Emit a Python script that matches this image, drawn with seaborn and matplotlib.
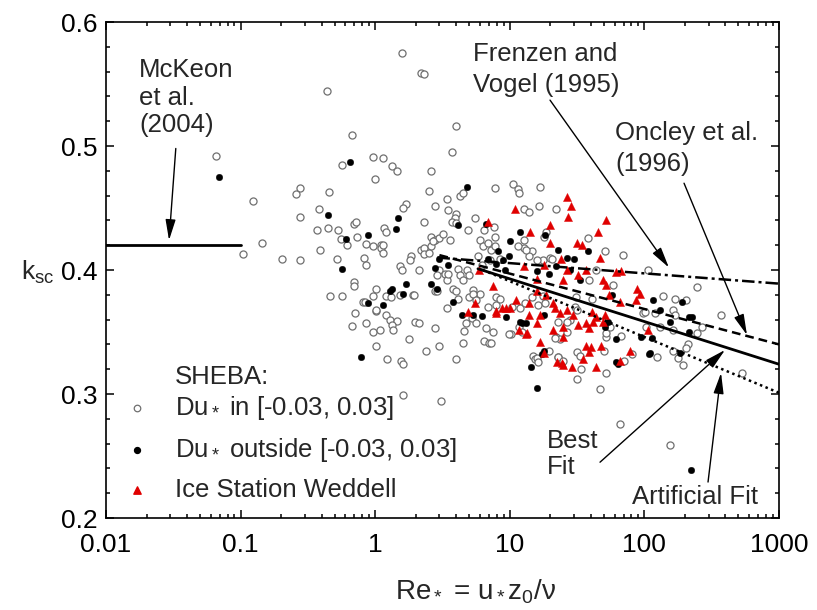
import matplotlib
matplotlib.use("Agg")
import matplotlib.pyplot as plt
import seaborn as sns
import numpy as np
from matplotlib.ticker import LogLocator, NullFormatter, MultipleLocator

# ---------------- data ----------------
open_re = [0.44, 0.066, 0.67, 0.97, 0.57, 1.0, 0.124, 0.276, 0.26, 0.45, 0.38, 0.276, 0.69, 0.72, 0.37,
           0.445, 0.53, 0.56, 0.62, 0.73, 0.86, 0.97, 0.143, 0.105, 0.203, 0.276, 0.39, 0.52, 0.83, 0.85,
           0.69, 0.70, 0.46, 0.57, 0.81, 0.97, 1.02, 0.71, 1.01, 0.67, 0.85, 0.97, 1.02, 1.59, 2.2,
           2.3, 4.0, 3.7, 1.14, 1.34, 1.44, 2.6, 7.7, 10.6, 11.6, 11.7, 16.7, 2.5, 4.3, 4.5,
           3.4, 1.7, 1.6, 2.8, 3.5, 4.0, 3.9, 2.3, 5.5, 12.7, 13.9, 22, 16.5, 1.16, 1.21,
           3.7, 4.0, 4.9, 6.4, 7.6, 18.5, 18, 12.7, 2.6, 2.8, 3.0, 3.6, 1.1, 1.1, 1.86,
           2.2, 2.3, 6.0, 6.3, 6.9, 7.3, 7.8, 1.14, 1.14, 1.8, 2.3, 1.53, 1.57, 2.1, 2.6,
           2.7, 3.2, 2.5, 3.0, 3.3, 3.4, 4.1, 4.8, 4.3, 4.5, 5.0, 1.9, 1.53, 3.8, 4.0,
           5.3, 6.0, 0.84, 1.02, 1.2, 1.3, 1.94, 1.09, 1.2, 1.28, 1.44, 1.33, 1.36, 1.79, 1.97,
           2.1, 2.8, 2.4, 3.0, 1.23, 1.55, 1.6, 4.0, 1.6, 3.1, 2.8, 3.4, 4.1, 5.0, 5.3,
           5.6, 4.7, 5.2, 5.6, 4.6, 6.7, 7.5, 6.4, 7.0, 4.5, 6.9, 7.9, 14.9, 15.4, 31.6,
           46.5, 51.7, 66, 34, 31.6, 33, 23, 24, 15.8, 16.2, 19.7, 26.8, 49.7, 52, 67,
           81, 71, 22, 23.5, 11.7, 12.3, 10.2, 9.9, 7.2, 7.9, 8.5, 10.3, 12, 13.0, 14.7,
           17.7, 16.2, 18.3, 22.8, 28, 26.6, 30.7, 31.5, 52, 55.6, 41, 31, 98, 103, 38,
           51, 69, 14.5, 12.7, 14, 17.7, 19.8, 7.8, 7.1, 39, 44, 58, 107, 244, 138,
           168, 204, 101, 120, 163, 168, 373, 266, 246, 130, 163, 124, 211, 204, 163,
           177, 193, 527, 155, 3.5, 2.9, 2.9, 21.5, 22.8, 24.7, 5.8, 6.2, 8.4, 11.5, 13.2,
           15.8, 20.5]
open_k = [0.544, 0.492, 0.509, 0.491, 0.485, 0.473, 0.456, 0.466, 0.461, 0.463, 0.449, 0.443, 0.437, 0.439, 0.432,
          0.434, 0.432, 0.425, 0.420, 0.427, 0.421, 0.419, 0.422, 0.413, 0.409, 0.408, 0.416, 0.409, 0.410, 0.404,
          0.390, 0.387, 0.379, 0.379, 0.374, 0.379, 0.385, 0.365, 0.367, 0.355, 0.357, 0.350, 0.339, 0.575, 0.559,
          0.558, 0.516, 0.495, 0.490, 0.484, 0.480, 0.480, 0.466, 0.469, 0.465, 0.462, 0.467, 0.464, 0.460, 0.462,
          0.457, 0.453, 0.450, 0.452, 0.448, 0.445, 0.442, 0.439, 0.442, 0.449, 0.447, 0.449, 0.452, 0.434, 0.431,
          0.439, 0.438, 0.432, 0.432, 0.435, 0.431, 0.427, 0.424, 0.427, 0.424, 0.426, 0.424, 0.420, 0.418, 0.411,
          0.416, 0.418, 0.424, 0.419, 0.422, 0.416, 0.427, 0.420, 0.414, 0.408, 0.413, 0.403, 0.400, 0.400, 0.419,
          0.423, 0.429, 0.414, 0.400, 0.397, 0.392, 0.401, 0.400, 0.396, 0.392, 0.396, 0.380, 0.380, 0.385, 0.383,
          0.384, 0.381, 0.374, 0.368, 0.379, 0.378, 0.380, 0.352, 0.364, 0.360, 0.359, 0.356, 0.352, 0.344, 0.358,
          0.357, 0.353, 0.335, 0.339, 0.328, 0.327, 0.324, 0.328, 0.299, 0.294, 0.383, 0.369, 0.377, 0.378, 0.381,
          0.376, 0.357, 0.361, 0.357, 0.351, 0.353, 0.350, 0.343, 0.341, 0.341, 0.370, 0.372, 0.331, 0.328, 0.312,
          0.304, 0.317, 0.276, 0.320, 0.334, 0.331, 0.330, 0.327, 0.329, 0.326, 0.335, 0.350, 0.335, 0.346, 0.347,
          0.332, 0.327, 0.346, 0.344, 0.354, 0.350, 0.348, 0.348, 0.341, 0.378, 0.377, 0.370, 0.369, 0.373, 0.378,
          0.379, 0.372, 0.373, 0.358, 0.360, 0.358, 0.370, 0.368, 0.349, 0.354, 0.377, 0.378, 0.365, 0.354, 0.426,
          0.415, 0.412, 0.415, 0.418, 0.411, 0.408, 0.410, 0.419, 0.408, 0.392, 0.400, 0.388, 0.400, 0.386, 0.379,
          0.377, 0.376, 0.366, 0.365, 0.368, 0.364, 0.364, 0.354, 0.349, 0.354, 0.352, 0.330, 0.340, 0.337, 0.335,
          0.329, 0.323, 0.317, 0.259, 0.397, 0.396, 0.383, 0.345, 0.330, 0.327, 0.411, 0.404, 0.409, 0.419, 0.416,
          0.408, 0.409]

black_re = [0.069, 0.65, 0.445, 0.61, 0.88, 0.57, 0.89, 0.79, 4.8, 1.48, 1.42, 4.1, 6.6, 12.0, 10,
            22.8, 2.8, 3.5, 2.6, 1.7, 1.6, 1.34, 1.28, 1.14, 3.8, 4.4, 6.2, 15.8, 14.3, 17.8,
            17.4, 62, 64, 61, 12.3, 9.3, 17.9, 51, 54, 95, 57, 38, 30, 26.6, 18.4,
            8.2, 8.9, 9.2, 15.8, 19.5, 22, 28, 33, 115, 190, 131, 216, 226, 155, 213,
            113, 110, 183, 222, 108, 2.9, 5.3, 12, 13.2, 3.0, 6.9, 7.9, 9.8]
black_k = [0.475, 0.487, 0.444, 0.425, 0.428, 0.401, 0.373, 0.330, 0.467, 0.442, 0.433, 0.436, 0.437, 0.431, 0.423,
           0.416, 0.402, 0.404, 0.389, 0.389, 0.381, 0.385, 0.383, 0.372, 0.374, 0.364, 0.363, 0.305, 0.322, 0.335,
           0.332, 0.326, 0.324, 0.344, 0.357, 0.362, 0.364, 0.354, 0.358, 0.346, 0.380, 0.415, 0.409, 0.410, 0.428,
           0.415, 0.408, 0.400, 0.399, 0.397, 0.403, 0.400, 0.392, 0.376, 0.374, 0.368, 0.362, 0.362, 0.358, 0.350,
           0.345, 0.333, 0.333, 0.239, 0.332, 0.385, 0.364, 0.358, 0.357, 0.409, 0.409, 0.405, 0.411]

red_re = [11, 6.9, 14.2, 20, 20, 5.9, 7.5, 5.5, 4.9, 7.9, 24.6, 29, 35, 44, 37,
          39, 48, 17.8, 16.8, 40, 66, 78, 25, 21, 25, 32, 39, 37, 13.5, 14,
          16.8, 15.8, 11.8, 7.9, 8.7, 10, 13.9, 21.8, 23.6, 26.6, 18.6, 21, 29.5, 41, 41.6,
          43.6, 50.7, 49, 55, 66, 87, 26.8, 28.7, 27, 52, 45, 31.6, 34.2, 24, 26.8,
          47, 61, 67, 49, 52, 12.7, 15.8, 25, 32, 37, 88, 92, 107, 9.3, 11.2,
          15.8, 13.2, 22.3, 25, 18]
red_k = [0.449, 0.439, 0.431, 0.436, 0.422, 0.400, 0.387, 0.373, 0.366, 0.367, 0.325, 0.322, 0.328, 0.322, 0.339,
         0.334, 0.339, 0.333, 0.342, 0.338, 0.327, 0.335, 0.346, 0.352, 0.354, 0.356, 0.353, 0.357, 0.349, 0.364,
         0.364, 0.357, 0.352, 0.365, 0.369, 0.369, 0.373, 0.369, 0.365, 0.368, 0.380, 0.373, 0.364, 0.366, 0.358,
         0.362, 0.364, 0.358, 0.380, 0.374, 0.376, 0.459, 0.452, 0.443, 0.440, 0.431, 0.422, 0.420, 0.409, 0.400,
         0.410, 0.398, 0.399, 0.392, 0.388, 0.403, 0.393, 0.392, 0.396, 0.400, 0.385, 0.381, 0.352, 0.369, 0.376,
         0.383, 0.348, 0.326, 0.323, 0.404]

# reference / fit lines (end points)
mckeon_re, mckeon_k = [0.01, 0.1], [0.42, 0.42]
frenzen_re, frenzen_k = [2.9, 1000], [0.410, 0.389]
oncley_re, oncley_k = [3.0, 1000], [0.412, 0.340]
best_re, best_k = [5.8, 1000], [0.401, 0.324]
artif_re, artif_k = [6.3, 1000], [0.400, 0.301]

xtick_vals = [0.01, 0.1, 1, 10, 100, 1000]
xtick_labels = ["0.01", "0.1", "1", "10", "100", "1000"]
ytick_vals = [0.2, 0.3, 0.4, 0.5, 0.6]
ytick_labels = ["0.2", "0.3", "0.4", "0.5", "0.6"]

# ---------------- style ----------------
sns.set_style("ticks")
plt.rcParams['font.family'] = ['Liberation Sans', 'DejaVu Sans']
plt.rcParams['mathtext.fontset'] = 'custom'
plt.rcParams['mathtext.rm'] = 'Liberation Sans'
plt.rcParams['mathtext.it'] = 'Liberation Sans:italic'
plt.rcParams['mathtext.default'] = 'regular'

fig = plt.figure(figsize=(8.17, 6.10), dpi=100)
ax = fig.add_axes([106/817, 92/610, 673/817, 496/610])

sns.scatterplot(x=open_re, y=open_k, ax=ax, marker='o', s=26, color='white',
                edgecolor='#6f6f6f', linewidth=0.9, zorder=2, legend=False)
sns.scatterplot(x=black_re, y=black_k, ax=ax, marker='o', s=22, color='black',
                edgecolor='black', linewidth=0.3, zorder=3, legend=False)
sns.scatterplot(x=red_re, y=red_k, ax=ax, marker='^', s=34, color='#e00000',
                edgecolor='#e00000', linewidth=0.3, zorder=4, legend=False)

ax.plot(mckeon_re, mckeon_k, color='black', lw=2.0, zorder=5)
ax.plot(frenzen_re, frenzen_k, color='black', lw=1.8, ls=(0, (5, 1.6, 1.2, 1.6)), zorder=5)
ax.plot(oncley_re, oncley_k, color='black', lw=1.8, ls=(0, (3.5, 2.0)), zorder=5)
ax.plot(best_re, best_k, color='black', lw=2.0, zorder=5)
ax.plot(artif_re, artif_k, color='black', lw=1.8, ls=(0, (1.0, 1.4)), zorder=5)

ax.set_xscale('log')
ax.set_xlim(0.01, 1000)
ax.set_ylim(0.2, 0.6)
ax.set_xticks(xtick_vals)
ax.set_xticklabels(xtick_labels)
ax.xaxis.set_minor_locator(LogLocator(base=10, subs=np.arange(2, 10)))
ax.xaxis.set_minor_formatter(NullFormatter())
ax.set_yticks(ytick_vals)
ax.set_yticklabels(ytick_labels)
ax.yaxis.set_minor_locator(MultipleLocator(0.02))

ax.tick_params(which='both', direction='in', top=True, right=True, width=1.1, colors='black',
               labelsize=19)
ax.tick_params(which='major', length=6)
ax.tick_params(which='minor', length=3)
ax.tick_params(axis='x', which='major', pad=11)
ax.tick_params(axis='y', which='major', pad=6)
for sp in ax.spines.values():
    sp.set_visible(True)
    sp.set_linewidth(1.2)
    sp.set_color('black')

fig.text(475/817, 1 - 592/610, r"Re$_*$ = u$_*$z$_0$/ν", ha='center', va='center', fontsize=20)
fig.text(38/817, 1 - 272/610, r"k$_{sc}$", ha='center', va='center', fontsize=19)

fs = 18.5
ax.text(0.0176, 0.539, "McKeon\net al.\n(2004)", fontsize=fs, ha='left', va='center', linespacing=1.2)
ax.text(5.33, 0.5617, "Frenzen and\nVogel (1995)", fontsize=fs, ha='left', va='center', linespacing=1.35)
ax.text(60.5, 0.498, "Oncley et al.\n(1996)", fontsize=fs, ha='left', va='center', linespacing=1.35)
ax.text(18.9, 0.2516, "Best\nFit", fontsize=fs, ha='left', va='center', linespacing=1.15)
ax.text(80.9, 0.217, "Artificial Fit", fontsize=fs, ha='left', va='center')

arrow = dict(arrowstyle='-|>,head_length=0.9,head_width=0.22', color='black', lw=1.0,
             shrinkA=0, shrinkB=0, mutation_scale=14)
ax.annotate("", xy=(0.0294, 0.424), xytext=(0.033, 0.498), arrowprops=arrow)
ax.annotate("", xy=(152, 0.402), xytext=(19.9, 0.537), arrowprops=arrow)
ax.annotate("", xy=(578, 0.3476), xytext=(197, 0.470), arrowprops=arrow)
ax.annotate("", xy=(397, 0.3355), xytext=(46.8, 0.245), arrowprops=arrow)
ax.annotate("", xy=(371, 0.317), xytext=(297, 0.229), arrowprops=arrow)

# legend drawn as text + marker samples in axes coordinates
tr = ax.transAxes
ax.text(0.1025, 0.284, "SHEBA:", transform=tr, fontsize=fs, ha='left', va='center')
rows = [(0.222, r"Du$_*$ in [-0.03, 0.03]"),
        (0.137, r"Du$_*$ outside [-0.03, 0.03]"),
        (0.056, "Ice Station Weddell")]
for yy, lab in rows:
    ax.text(0.1025, yy, lab, transform=tr, fontsize=fs, ha='left', va='center')
ax.scatter([0.046], [0.222], transform=tr, marker='o', s=22, facecolor='white', edgecolor='#6f6f6f', linewidth=0.9, clip_on=False)
ax.scatter([0.046], [0.137], transform=tr, marker='o', s=18, color='black', clip_on=False)
ax.scatter([0.046], [0.056], transform=tr, marker='^', s=28, color='#e00000', clip_on=False)

fig.savefig("out.png", dpi=100)
